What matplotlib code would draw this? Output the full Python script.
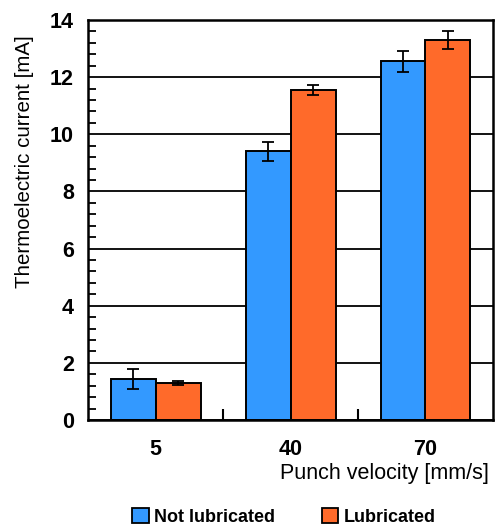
import numpy as np
import matplotlib.pyplot as plt
from matplotlib.ticker import MultipleLocator, FixedLocator
from matplotlib.patches import Patch

# data
velocities = ['5', '40', '70']
not_lub = [1.42, 9.40, 12.55]
not_lub_err = [0.35, 0.32, 0.38]
lub = [1.30, 11.56, 13.30]
lub_err = [0.08, 0.17, 0.30]

blue = '#3399ff'
orange = '#ff6a2a'

plt.rcParams['font.family'] = ['Liberation Sans', 'DejaVu Sans']

fig = plt.figure(figsize=(4.95, 5.27), dpi=100)
ax = fig.add_axes([88/495, 1 - 420/527, 405/495, 400/527])

x = np.arange(len(velocities))
w = 1/3
ax.set_axisbelow(True)
ax.yaxis.grid(True, which='major', color='black', linewidth=1.3)
ax.bar(x - w/2, not_lub, w, color=blue, edgecolor='black', linewidth=1.4,
       yerr=not_lub_err, error_kw=dict(ecolor='black', elinewidth=1.3, capsize=4.5, capthick=1.3))
ax.bar(x + w/2, lub, w, color=orange, edgecolor='black', linewidth=1.4,
       yerr=lub_err, error_kw=dict(ecolor='black', elinewidth=1.3, capsize=4.5, capthick=1.3))

ax.set_xlim(-0.5, 2.5)
ax.set_ylim(0, 14)
ax.set_xticks(x)
ax.set_xticklabels(velocities)
ax.xaxis.set_minor_locator(FixedLocator([0.5, 1.5]))
ax.yaxis.set_major_locator(MultipleLocator(2))
ax.yaxis.set_minor_locator(MultipleLocator(0.4))
ax.tick_params(axis='x', which='major', length=0, pad=14, labelsize=15.5)
ax.tick_params(axis='x', which='minor', direction='in', length=8, width=1.5)
ax.tick_params(axis='y', which='major', length=0, pad=10, labelsize=15.5)
ax.tick_params(axis='y', which='minor', direction='in', length=6, width=1.3)
for lbl in ax.get_xticklabels() + ax.get_yticklabels():
    lbl.set_fontweight('bold')
for s in ax.spines.values():
    s.set_linewidth(1.8)

fig.text(25/495, 1 - 162/527, 'Thermoelectric current [mA]', rotation=90,
         ha='center', va='center', fontsize=14.8)
fig.text(489/495, 1 - 473/527, 'Punch velocity [mm/s]', ha='right', va='center', fontsize=15.5)

handles = [Patch(facecolor=blue, edgecolor='black', linewidth=1.3, label='Not lubricated'),
           Patch(facecolor=orange, edgecolor='black', linewidth=1.3, label='Lubricated')]
fig.legend(handles=handles, loc='center', bbox_to_anchor=(284/495, 1 - 517/527), ncol=2,
           frameon=False, prop={'weight': 'bold', 'size': 13}, handlelength=0.9,
           handleheight=0.9, handletextpad=0.3, columnspacing=2.6)

fig.savefig('out.png', dpi=100)
